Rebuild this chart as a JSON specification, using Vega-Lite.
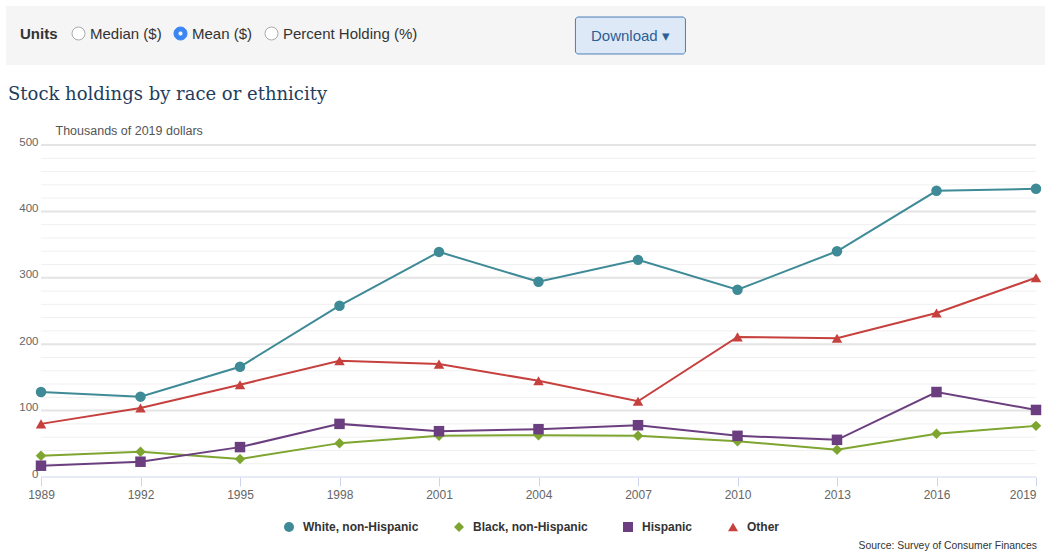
{
  "$schema": "https://vega.github.io/schema/vega-lite/v6.json",
  "background": "#ffffff",
  "padding": {"left": 6, "top": 6, "right": 0, "bottom": 0},
  "spacing": 21,
  "config": {"view": {"stroke": null}, "font": "Liberation Sans"},
  "resolve": {
    "scale": {"fill": "independent", "stroke": "independent", "shape": "independent", "x": "independent", "y": "independent"},
    "legend": {"fill": "independent", "stroke": "independent", "shape": "independent"}
  },
  "title": {"text": "Source: Survey of Consumer Finances", "orient": "bottom", "anchor": "end", "fontSize": 10.4, "fontWeight": "normal", "color": "#333333", "offset": 8, "dx": -8},
  "datasets": {
    "header": [
      {"item": "Median ($)", "kind": "option"},
      {"item": "Mean ($)", "kind": "option"},
      {"item": "Percent Holding (%)", "kind": "option"},
      {"item": "Download", "kind": "button"}
    ],
    "grid": [
      {"v": 20}, {"v": 40}, {"v": 60}, {"v": 80}, {"v": 100}, {"v": 120}, {"v": 140}, {"v": 160}, {"v": 180}, {"v": 200},
      {"v": 220}, {"v": 240}, {"v": 260}, {"v": 280}, {"v": 300}, {"v": 320}, {"v": 340}, {"v": 360}, {"v": 380}, {"v": 400},
      {"v": 420}, {"v": 440}, {"v": 460}, {"v": 480}, {"v": 500}
    ],
    "holdings": [
      {"year": 1989, "group": "White, non-Hispanic", "value": 128},
      {"year": 1992, "group": "White, non-Hispanic", "value": 121},
      {"year": 1995, "group": "White, non-Hispanic", "value": 166},
      {"year": 1998, "group": "White, non-Hispanic", "value": 258},
      {"year": 2001, "group": "White, non-Hispanic", "value": 339},
      {"year": 2004, "group": "White, non-Hispanic", "value": 294},
      {"year": 2007, "group": "White, non-Hispanic", "value": 327},
      {"year": 2010, "group": "White, non-Hispanic", "value": 282},
      {"year": 2013, "group": "White, non-Hispanic", "value": 340},
      {"year": 2016, "group": "White, non-Hispanic", "value": 431},
      {"year": 2019, "group": "White, non-Hispanic", "value": 434},
      {"year": 1989, "group": "Black, non-Hispanic", "value": 32},
      {"year": 1992, "group": "Black, non-Hispanic", "value": 38},
      {"year": 1995, "group": "Black, non-Hispanic", "value": 27},
      {"year": 1998, "group": "Black, non-Hispanic", "value": 51},
      {"year": 2001, "group": "Black, non-Hispanic", "value": 62},
      {"year": 2004, "group": "Black, non-Hispanic", "value": 63},
      {"year": 2007, "group": "Black, non-Hispanic", "value": 62},
      {"year": 2010, "group": "Black, non-Hispanic", "value": 54},
      {"year": 2013, "group": "Black, non-Hispanic", "value": 41},
      {"year": 2016, "group": "Black, non-Hispanic", "value": 65},
      {"year": 2019, "group": "Black, non-Hispanic", "value": 77},
      {"year": 1989, "group": "Hispanic", "value": 17},
      {"year": 1992, "group": "Hispanic", "value": 23},
      {"year": 1995, "group": "Hispanic", "value": 45},
      {"year": 1998, "group": "Hispanic", "value": 80},
      {"year": 2001, "group": "Hispanic", "value": 69},
      {"year": 2004, "group": "Hispanic", "value": 72},
      {"year": 2007, "group": "Hispanic", "value": 78},
      {"year": 2010, "group": "Hispanic", "value": 62},
      {"year": 2013, "group": "Hispanic", "value": 56},
      {"year": 2016, "group": "Hispanic", "value": 128},
      {"year": 2019, "group": "Hispanic", "value": 101},
      {"year": 1989, "group": "Other", "value": 80},
      {"year": 1992, "group": "Other", "value": 104},
      {"year": 1995, "group": "Other", "value": 139},
      {"year": 1998, "group": "Other", "value": 175},
      {"year": 2001, "group": "Other", "value": 170},
      {"year": 2004, "group": "Other", "value": 145},
      {"year": 2007, "group": "Other", "value": 114},
      {"year": 2010, "group": "Other", "value": 211},
      {"year": 2013, "group": "Other", "value": 209},
      {"year": 2016, "group": "Other", "value": 247},
      {"year": 2019, "group": "Other", "value": 300}
    ]
  },
  "vconcat": [
    {
      "width": 1039,
      "height": 59,
      "view": {"fill": "#f5f5f5", "stroke": null},
      "data": {"name": "header"},
      "layer": [
        {
          "transform": [{"filter": "datum.kind === 'option'"}],
          "mark": {"type": "point", "filled": true, "opacity": 0},
          "encoding": {
            "fill": {
              "field": "item", "type": "nominal",
              "scale": {"domain": ["Median ($)", "Mean ($)", "Percent Holding (%)"], "range": ["#ffffff", "#3a86f2", "#ffffff"]},
              "legend": {"orient": "none", "legendX": 14, "legendY": 20, "direction": "horizontal", "title": "Units", "titleOrient": "left", "titleFontSize": 15, "titleFontWeight": "bold", "titleColor": "#333333", "titlePadding": 13, "labelFontSize": 15, "labelColor": "#333333", "labelOffset": 4, "columnPadding": 10, "symbolSize": 169, "symbolStrokeWidth": 1, "symbolOpacity": 1, "padding": 0}
            },
            "stroke": {
              "field": "item", "type": "nominal",
              "scale": {"domain": ["Median ($)", "Mean ($)", "Percent Holding (%)"], "range": ["#aaaaaa", "#3a86f2", "#aaaaaa"]},
              "legend": {"orient": "none", "legendX": 14, "legendY": 20, "direction": "horizontal", "title": "Units", "titleOrient": "left", "titleFontSize": 15, "titleFontWeight": "bold", "titleColor": "#333333", "titlePadding": 13, "labelFontSize": 15, "labelColor": "#333333", "labelOffset": 4, "columnPadding": 10, "symbolSize": 169, "symbolStrokeWidth": 1, "symbolOpacity": 1, "padding": 0}
            },
            "shape": {
              "field": "item", "type": "nominal",
              "scale": {"domain": ["Median ($)", "Mean ($)", "Percent Holding (%)"], "range": ["circle", "M1,0A1,1 0 1,1 -1,0A1,1 0 1,1 1,0ZM0.38,0A0.38,0.38 0 1,0 -0.38,0A0.38,0.38 0 1,0 0.38,0Z", "circle"]},
              "legend": {"orient": "none", "legendX": 14, "legendY": 20, "direction": "horizontal", "title": "Units", "titleOrient": "left", "titleFontSize": 15, "titleFontWeight": "bold", "titleColor": "#333333", "titlePadding": 13, "labelFontSize": 15, "labelColor": "#333333", "labelOffset": 4, "columnPadding": 10, "symbolSize": 169, "symbolStrokeWidth": 1, "symbolOpacity": 1, "padding": 0}
            }
          }
        },
        {
          "transform": [{"filter": "datum.kind === 'button'"}],
          "mark": {"type": "point", "shape": "M-0.964,-0.336H0.964L1,-0.3V0.3L0.964,0.336H-0.964L-1,0.3V-0.3Z", "size": 12100, "filled": true, "fill": "#dde9f7", "stroke": "#4d7db8", "strokeWidth": 1, "opacity": 1},
          "encoding": {
            "x": {"field": "item", "type": "nominal", "scale": {"type": "point", "align": 0.601}, "axis": null}
          }
        },
        {
          "transform": [{"filter": "datum.kind === 'button'"}],
          "mark": {"type": "text", "align": "center", "baseline": "middle", "fontSize": 15, "color": "#2d5f95"},
          "encoding": {
            "x": {"field": "item", "type": "nominal", "scale": {"type": "point", "align": 0.601}, "axis": null},
            "text": {"value": "Download ▾"}
          }
        }
      ]
    },
    {
      "width": 1030,
      "height": 332,
      "title": {"text": "Stock holdings by race or ethnicity", "anchor": "start", "frame": "bounds", "font": "DejaVu Serif", "fontSize": 18, "fontWeight": "normal", "color": "#1f3d5c", "offset": 20, "dx": 2},
      "layer": [
        {
          "data": {"name": "grid"},
          "mark": {"type": "rule"},
          "encoding": {
            "x": {"datum": 1989, "type": "quantitative", "scale": {"domain": [1989, 2019], "range": [35, 1030], "nice": false, "zero": false}},
            "x2": {"datum": 2019},
            "y": {"field": "v", "type": "quantitative", "scale": {"domain": [0, 500], "nice": false}, "title": "Thousands of 2019 dollars"},
            "stroke": {"condition": {"test": "datum.v % 100 === 0", "value": "#e4e4e4"}, "value": "#f0f0f0"},
            "strokeWidth": {"condition": {"test": "datum.v % 100 === 0", "value": 2}, "value": 1}
          }
        },
        {
          "data": {"name": "holdings"},
          "mark": {"type": "line", "strokeWidth": 2},
          "encoding": {
            "x": {
              "field": "year", "type": "quantitative",
              "scale": {"domain": [1989, 2019], "range": [35, 1030], "nice": false, "zero": false},
              "axis": {"values": [1989, 1992, 1995, 1998, 2001, 2004, 2007, 2010, 2013, 2016, 2019], "format": "d", "title": null, "grid": false, "domain": false, "tickColor": "#ccd6eb", "tickSize": 9, "tickWidth": 1, "labelColor": "#666666", "labelFontSize": 12, "labelPadding": 3, "labelFlush": false, "labelOverlap": false, "labelAlign": {"condition": {"test": "datum.value === 2019", "value": "right"}, "value": "center"}}
            },
            "y": {
              "field": "value", "type": "quantitative",
              "scale": {"domain": [0, 500], "nice": false},
              "axis": {"values": [0, 100, 200, 300, 400, 500], "title": "Thousands of 2019 dollars", "titleAngle": 0, "titleAlign": "left", "titleBaseline": "middle", "titleX": 49, "titleY": -15, "titleFontSize": 12.5, "titleFontWeight": "normal", "titleColor": "#555555", "domain": false, "ticks": false, "tickSize": 0, "grid": false, "labelColor": "#666666", "labelFontSize": 11.5, "labelAlign": "right", "labelPadding": -32, "labelBaseline": "alphabetic", "labelOverlap": false}
            },
            "stroke": {
              "field": "group", "type": "nominal",
              "sort": ["White, non-Hispanic", "Black, non-Hispanic", "Hispanic", "Other"],
              "scale": {"range": ["#3f8a97", "#7da52f", "#6b3e7f", "#c6403e"]},
              "legend": null
            }
          }
        },
        {
          "data": {"values": [{"base": 0}]},
          "mark": {"type": "rule", "stroke": "#ccd6eb", "strokeWidth": 1},
          "encoding": {
            "x": {"datum": 1989, "type": "quantitative"},
            "x2": {"datum": 2019},
            "y": {"field": "base", "type": "quantitative"}
          }
        },
        {
          "data": {"name": "holdings"},
          "mark": {"type": "point", "filled": true, "size": 110, "opacity": 1, "strokeWidth": 0},
          "encoding": {
            "x": {"field": "year", "type": "quantitative"},
            "y": {"field": "value", "type": "quantitative"},
            "fill": {
              "field": "group", "type": "nominal",
              "scale": {"domain": ["White, non-Hispanic", "Black, non-Hispanic", "Hispanic", "Other"], "range": ["#3f8a97", "#7da52f", "#6b3e7f", "#c6403e"]},
              "legend": {"orient": "none", "legendX": 277, "legendY": 376, "direction": "horizontal", "title": null, "symbolSize": 100, "symbolStrokeWidth": 0, "symbolOpacity": 1, "labelFontSize": 12, "labelFontWeight": "bold", "labelColor": "#333333", "labelOffset": 8, "columnPadding": 34, "padding": 0}
            },
            "shape": {
              "field": "group", "type": "nominal",
              "scale": {"domain": ["White, non-Hispanic", "Black, non-Hispanic", "Hispanic", "Other"], "range": ["circle", "diamond", "square", "triangle-up"]},
              "legend": {"orient": "none", "legendX": 277, "legendY": 376, "direction": "horizontal", "title": null, "symbolSize": 100, "symbolStrokeWidth": 0, "symbolOpacity": 1, "labelFontSize": 12, "labelFontWeight": "bold", "labelColor": "#333333", "labelOffset": 8, "columnPadding": 34, "padding": 0}
            }
          }
        }
      ]
    }
  ]
}
